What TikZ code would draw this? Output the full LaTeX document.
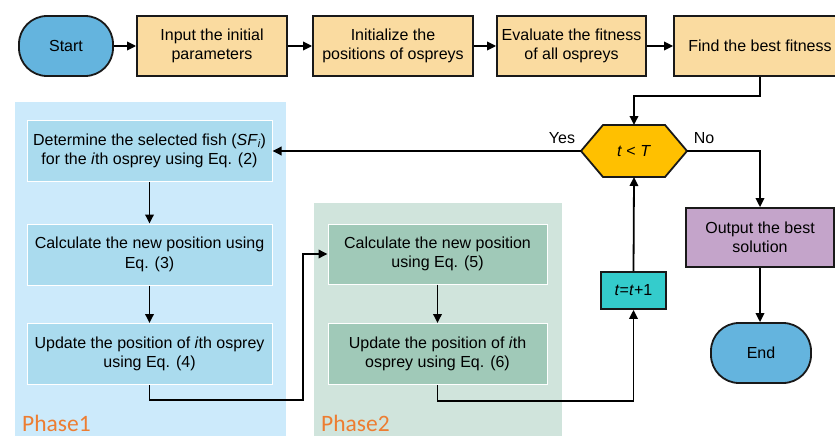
\documentclass[tikz,border=0pt]{standalone}
\usepackage{fontspec}
\setmainfont{Liberation Sans}
\newfontfamily\phasefont{Carlito}
\usetikzlibrary{arrows.meta}
\definecolor{startc}{RGB}{100,180,222}
\definecolor{topc}{RGB}{250,219,160}
\definecolor{ponebg}{RGB}{204,234,251}
\definecolor{ponebox}{RGB}{170,219,238}
\definecolor{ptwobg}{RGB}{208,228,220}
\definecolor{ptwobox}{RGB}{160,201,184}
\definecolor{hexc}{RGB}{255,192,0}
\definecolor{outc}{RGB}{196,164,202}
\definecolor{incc}{RGB}{52,204,204}
\definecolor{phasec}{RGB}{237,125,49}
\definecolor{edgec}{RGB}{25,25,25}
\tikzset{
  base/.style={font=\fontsize{16}{19.5}\selectfont, align=center, inner sep=0pt},
  term/.style={base, draw=edgec, line width=1.8pt, fill=startc, rounded corners=28pt, minimum width=94pt, minimum height=60pt},
  topbox/.style={base, draw=edgec, line width=1.8pt, fill=topc, minimum height=60pt},
  p1box/.style={base, draw=white, line width=1pt, fill=ponebox, minimum width=245pt, minimum height=61pt},
  p2box/.style={base, draw=white, line width=1pt, fill=ptwobox, minimum width=219pt, minimum height=61pt},
  outbox/.style={base, draw=edgec, line width=1.8pt, fill=outc, minimum width=148pt, minimum height=59pt},
  incbox/.style={base, draw=edgec, line width=1.8pt, fill=incc, minimum width=65pt, minimum height=37pt},
  arr/.style={line width=1.8pt, draw=black, -{Triangle[length=9pt,width=8.5pt]}},
  phaselbl/.style={font=\phasefont\fontsize{23.5}{28}\selectfont, text=phasec, anchor=base west, inner sep=0pt},
  lbl/.style={font=\fontsize{16}{19.5}\selectfont, inner sep=0pt}
}
\begin{document}
\begin{tikzpicture}[x=1pt,y=-1pt]
\useasboundingbox (0,0) rectangle (835,436);
\clip (0,0) rectangle (835,436);
% phase backgrounds
\fill[ponebg] (15,102) rectangle (286,440);
\fill[ptwobg] (314,203) rectangle (562,440);
\node[phaselbl] (ph1) at (22,431) {Phase1};
\node[phaselbl] (ph2) at (321,431) {Phase2};
% top row
\node[term] (start) at (66,46) {Start};
\node[topbox, minimum width=150pt] (b1) at (212,46) {Input the initial\\parameters};
\node[topbox, minimum width=160pt] (b2) at (393,46) {Initialize the\\positions of ospreys};
\node[topbox, minimum width=149pt] (b3) at (571.5,46) {Evaluate the fitness\\of all ospreys};
\node[topbox, minimum width=172pt] (b4) at (760,46) {Find the best fitness};
% phase 1
\node[p1box] (p1a) at (149.5,151) {Determine the selected fish (\textit{SF}{\fontsize{11}{12}\selectfont\raisebox{-2pt}{\textit{i}}})\\for the \textit{i}th osprey using Eq. (2)};
\node[p1box] (p1b) at (149.5,254.5) {Calculate the new position using\\Eq. (3)};
\node[p1box] (p1c) at (149.5,354) {Update the position of \textit{i}th osprey\\using Eq. (4)};
% phase 2
\node[p2box, minimum height=60pt] (p2a) at (437.5,254) {Calculate the new position\\using Eq. (5)};
\node[p2box] (p2b) at (437.5,354) {Update the position of \textit{i}th\\osprey using Eq. (6)};
% decision hexagon
\coordinate (hexW) at (581,151);
\coordinate (hexE) at (687,151);
\coordinate (hexN) at (634,125);
\coordinate (hexS) at (634,177);
\filldraw[fill=hexc, draw=edgec, line width=1.8pt] (hexW) -- (603,125) -- (665,125) -- (hexE) -- (665,177) -- (603,177) -- cycle;
\node[base] (hex) at (634,151) {\textit{t} < \textit{T}};
\node[lbl] (yes) at (562,138) {Yes};
\node[lbl] (no) at (704,138) {No};
% right side
\node[outbox] (out) at (760,237.5) {Output the best\\solution};
\node[term, minimum width=100pt] (end) at (761,353) {End};
\node[incbox] (inc) at (633.5,290.5) {\textit{t}=\textit{t}+1};
% connectors
\draw[arr] (start) -- (b1);
\draw[arr] (b1) -- (b2);
\draw[arr] (b2) -- (b3);
\draw[arr] (b3) -- (b4);
\coordinate (j0) at (634,96);
\draw[arr] (b4.south) |- (j0) -- (hexN);
\draw[arr] (hexW) -- (p1a.east);
\draw[arr] (hexE) -| (out.north);
\draw[arr] (out.south) -- (out.south |- end.north);
\draw[arr] (p1a) -- (p1b);
\draw[arr] (p1b) -- (p1c);
\coordinate (j1) at (303,400);
\draw[arr] (p1c.south) |- (j1) |- (p2a.west);
\draw[arr] (p2a) -- (p2b);
\coordinate (j2) at (633.5,401);
\draw[arr] (p2b.south) |- (j2) -- (inc.south);
\draw[arr] (inc.north) -- (hexS);
\end{tikzpicture}
\end{document}
